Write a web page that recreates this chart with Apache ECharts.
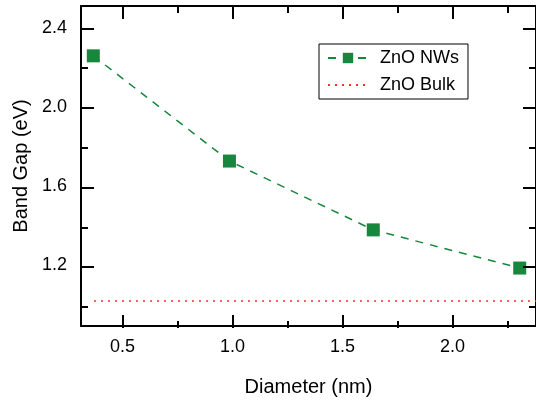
<!DOCTYPE html>
<html>
<head>
<meta charset="utf-8">
<script src="https://cdn.jsdelivr.net/npm/echarts@6/dist/echarts.min.js"></script>
<style>
  html, body { margin: 0; padding: 0; background: #fff; }
  #wrap { position: relative; width: 536px; height: 402px; }
  #chart, #ticks { position: absolute; left: 0; top: 0; width: 536px; height: 402px; }
  #ticks { pointer-events: none; }
</style>
</head>
<body>
<div id="wrap">
  <div id="chart"></div>
  <div id="ticks"></div>
</div>
<script>
// values
const diameters = [0.367, 0.986, 1.64, 2.306]
const bandGaps = [2.26, 1.728, 1.38, 1.187]
const bulkX = [0.37, 2.38]
const bulkGap = 1.02

const xMajor = [0.5, 1.0, 1.5, 2.0]
const xMinor = [0.75, 1.25, 1.75, 2.25]
const yMajor = [1.2, 1.6, 2.0, 2.4]
const yMinor = [1.0, 1.4, 1.8, 2.2]

const X_MIN = 0.311, X_MAX = 2.38
const Y_MIN = 0.894, Y_MAX = 2.512

const font = 'Liberation Sans, Arial, sans-serif'
const green = '#17873d'
const red = '#ff2a2a'
const grid = { left: 81, top: 6, width: 457, height: 322 }

function baseAxis(position) {
  const isX = position === 'top' || position === 'bottom'
  return {
    type: 'value',
    position: position,
    min: isX ? X_MIN : Y_MIN,
    max: isX ? X_MAX : Y_MAX,
    axisLine: { show: false },
    axisTick: { show: false },
    axisLabel: { show: false },
    splitLine: { show: false },
  }
}

// frame line with labels / title
function frameAxis(position, labels, name, gap) {
  const a = baseAxis(position)
  a.axisLine = { show: true, lineStyle: { color: '#000', width: 2 } }
  if (labels) {
    a.axisLabel = {
      show: true, customValues: labels.slice(),
      margin: position === 'left' ? 14 : 12,
      formatter: (v) => v.toFixed(1),
      color: '#000', fontSize: 18, fontFamily: font,
    }
  }
  if (name) {
    a.name = name
    a.nameLocation = 'middle'
    a.nameGap = gap
    a.nameTextStyle = { color: '#000', fontSize: 20, fontFamily: font }
  }
  return a
}

// inside ticks only
function tickAxis(position, values, len) {
  const a = baseAxis(position)
  a.axisTick = { show: true, inside: true, length: len, customValues: values.slice(),
    lineStyle: { color: '#000', width: 2 } }
  return a
}

const chart = echarts.init(document.getElementById('chart'))
chart.setOption({
  animation: false,
  grid: grid,
  legend: {
    left: 319,
    top: 44,
    orient: 'vertical',
    borderColor: '#000',
    borderWidth: 1,
    borderRadius: 0,
    padding: [5, 9, 5, 8],
    itemWidth: 40,
    itemHeight: 13,
    itemGap: 9,
    textStyle: { color: '#000', fontSize: 18, fontFamily: font, padding: [0, 0, 0, 7] },
    data: ['ZnO NWs', { name: 'ZnO Bulk', itemStyle: { opacity: 0 } }],
  },
  xAxis: [
    frameAxis('bottom', xMajor, 'Diameter (nm)', 51),
    frameAxis('top'),
  ],
  yAxis: [
    frameAxis('left', yMajor, 'Band Gap (eV)', 50),
    frameAxis('right'),
  ],
  series: [
    {
      name: 'ZnO NWs',
      type: 'line',
      symbol: 'rect',
      symbolSize: 13,
      itemStyle: { color: green },
      lineStyle: { color: green, width: 1.5, type: [8, 7] },
      data: diameters.map((d, i) => [d, bandGaps[i]]),
    },
    {
      name: 'ZnO Bulk',
      type: 'line',
      symbol: 'none',
      itemStyle: { color: red },
      lineStyle: { color: red, width: 1.5, type: [2, 5] },
      data: bulkX.map((x) => [x, bulkGap]),
    },
  ],
})

// ticks on a transparent chart laid over the same grid
const ticks = echarts.init(document.getElementById('ticks'))
ticks.setOption({
  animation: false,
  grid: grid,
  xAxis: [
    tickAxis('bottom', xMajor, 13),
    tickAxis('bottom', xMinor, 7),
    tickAxis('top', xMajor, 13),
    tickAxis('top', xMinor, 7),
  ],
  yAxis: [
    tickAxis('left', yMajor, 13),
    tickAxis('left', yMinor, 7),
    tickAxis('right', yMajor, 13),
    tickAxis('right', yMinor, 7),
  ],
  series: [{ type: 'line', data: [], silent: true }],
})
</script>
</body>
</html>
